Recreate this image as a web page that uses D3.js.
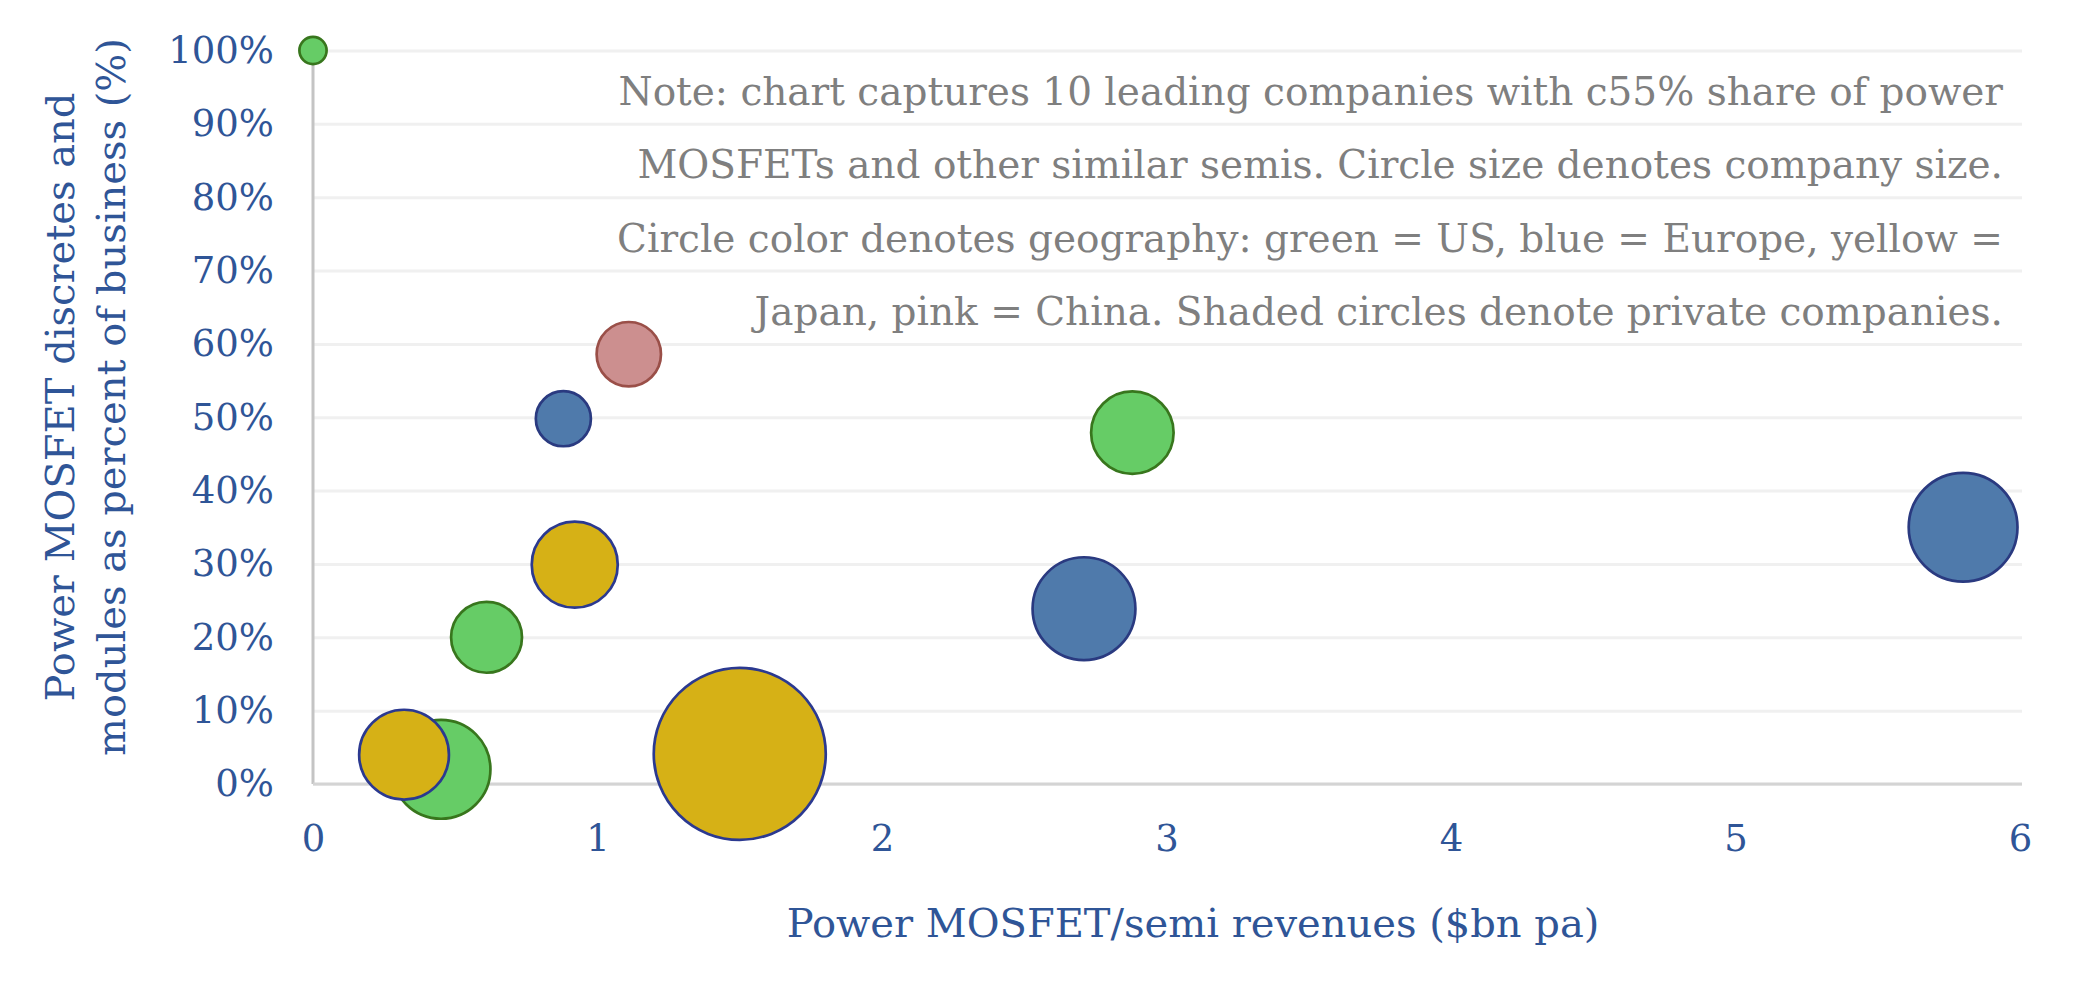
<!DOCTYPE html>
<html>
<head>
<meta charset="utf-8">
<script src="https://cdn.jsdelivr.net/npm/d3@7/dist/d3.min.js"></script>
<style>
  body { margin: 0; background: #fff; }
  svg { display: block; }
</style>
</head>
<body>
<div id="chart"></div>
<script>
// valori (un cerchio per azienda)
var revenue = [0.00, 1.11, 0.88, 2.88, 5.80, 2.71, 0.92, 0.61, 0.45, 0.32, 1.50];
var share   = [1.00, 0.586, 0.498, 0.479, 0.35, 0.239, 0.299, 0.20, 0.02, 0.04, 0.041];
var size    = [1.0, 5.6, 4.1, 9.2, 16.0, 14.3, 10.0, 6.8, 13.2, 10.9, 40];
var geo     = ["US", "China", "Europe", "US", "Europe", "Europe", "Japan", "US", "US", "Japan", "Japan"];

var xTicks = [0, 1, 2, 3, 4, 5, 6];
var yTicks = [0, 0.1, 0.2, 0.3, 0.4, 0.5, 0.6, 0.7, 0.8, 0.9, 1.0];

var noteLines = [
  "Note: chart captures 10 leading companies with c55% share of power",
  "MOSFETs and other similar semis. Circle size denotes company size.",
  "Circle color denotes geography: green = US, blue = Europe, yellow =",
  "Japan, pink = China. Shaded circles denote private companies."
];

var fills   = {US: "#66cc66", Europe: "#4f7aab", Japan: "#d6b116", China: "#cc8f8f"};
var strokes = {US: "#38761d", Europe: "#2a3a80", Japan: "#2b3990", China: "#9a4f48"};

var data = revenue.map(function(d, i) {
  return {x: d, y: share[i], size: size[i], geo: geo[i]};
});

// margini e dimensioni
var margin = {top: 50.5, right: 63, bottom: 197, left: 313},
  width = 2083 - margin.left - margin.right,
  height = 981 - margin.top - margin.bottom;

var font = "'DejaVu Serif', Georgia, serif";
var blue = "#2f5597";

var svg = d3.select("#chart")
.append("svg")
  .attr("width", width + margin.left + margin.right)
  .attr("height", height + margin.top + margin.bottom)
.append("g")
  .attr("transform", "translate(" + margin.left + "," + margin.top + ")");

var x = d3.scaleLinear().domain([0, 6]).range([0, width]);
var y = d3.scaleLinear().domain([0, 1]).range([height, 0]);
var r = d3.scaleSqrt().domain([0, 40]).range([0, 86]);

// griglia orizzontale
var grid = svg.append("g")
  .call(d3.axisLeft(y).tickValues(yTicks).tickSize(-width - 2).tickFormat(""));
grid.select(".domain").remove();
grid.selectAll("line")
  .style("stroke", "#f0f0f0")
  .style("stroke-width", 3);

// assi
svg.append("line")
  .attr("x1", 0).attr("x2", 0)
  .attr("y1", 0).attr("y2", height)
  .style("stroke", "#c4c4c4")
  .style("stroke-width", 3);
svg.append("line")
  .attr("x1", 0).attr("x2", width + 2)
  .attr("y1", height).attr("y2", height)
  .style("stroke", "#d4d4d4")
  .style("stroke-width", 3);

// etichette asse Y
var yAxis = svg.append("g")
  .call(d3.axisLeft(y).tickValues(yTicks).tickFormat(d3.format(".0%")).tickSize(0).tickPadding(39));
yAxis.select(".domain").remove();
yAxis.selectAll("text")
  .style("font-family", font)
  .style("font-size", "37px")
  .style("fill", blue);

// etichette asse X
var xAxis = svg.append("g")
  .attr("transform", "translate(0," + height + ")")
  .call(d3.axisBottom(x).tickValues(xTicks).tickFormat(d3.format("d")).tickSize(0).tickPadding(41));
xAxis.select(".domain").remove();
xAxis.selectAll("text")
  .style("font-family", font)
  .style("font-size", "37px")
  .style("fill", blue);

// bolle
svg.selectAll("circle.bubble")
  .data(data)
  .enter()
  .append("circle")
    .attr("class", "bubble")
    .attr("cx", function(d) { return x(d.x); })
    .attr("cy", function(d) { return y(d.y); })
    .attr("r", function(d) { return r(d.size); })
    .style("fill", function(d) { return fills[d.geo]; })
    .style("stroke", function(d) { return strokes[d.geo]; })
    .style("stroke-width", 2.7);

// nota in alto a destra
svg.append("g")
  .selectAll("text")
  .data(noteLines)
  .enter()
  .append("text")
    .attr("x", 2003 - margin.left)
    .attr("y", function(d, i) { return 105 - margin.top + i * 73.3; })
    .attr("text-anchor", "end")
    .style("font-family", font)
    .style("font-size", "39px")
    .style("fill", "#7f7f7f")
    .text(function(d) { return d; });

// titolo asse X
svg.append("text")
  .attr("x", 1193 - margin.left)
  .attr("y", 937 - margin.top)
  .attr("text-anchor", "middle")
  .style("font-family", font)
  .style("font-size", "40px")
  .style("fill", blue)
  .text("Power MOSFET/semi revenues ($bn pa)");

// titolo asse Y (due righe)
var yTitle = ["Power MOSFET discretes and", "modules as percent of business (%)"];
svg.append("g")
  .selectAll("text")
  .data(yTitle)
  .enter()
  .append("text")
    .attr("transform", function(d, i) {
      return "translate(" + ((i === 0 ? 74 : 125) - margin.left) + "," + (397 - margin.top) + ") rotate(-90)";
    })
    .attr("text-anchor", "middle")
    .style("font-family", font)
    .style("font-size", "40px")
    .style("fill", blue)
    .text(function(d) { return d; });
</script>
</body>
</html>
